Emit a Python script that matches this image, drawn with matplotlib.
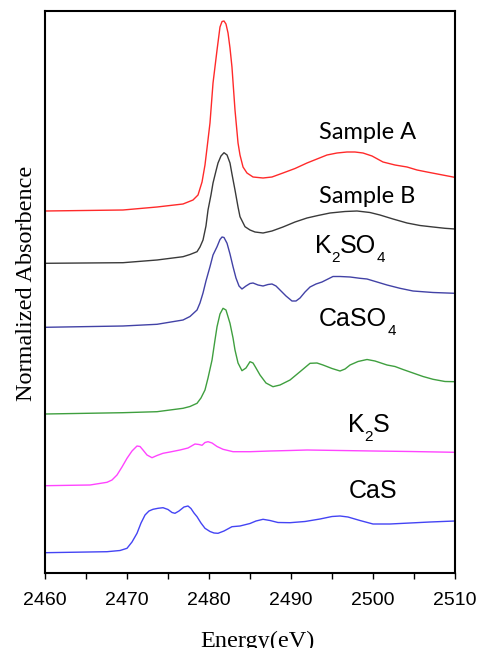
import matplotlib
matplotlib.use("Agg")
import matplotlib.pyplot as plt
import matplotlib.transforms as mtransforms
from matplotlib.ticker import MultipleLocator

# ---------------- data ----------------
sampleA_E = [2460.0, 2469.51, 2473.66, 2476.83, 2478.05, 2478.66, 2479.15, 2479.51, 2479.76, 2480.12,
             2480.49, 2480.98, 2481.34, 2481.59, 2481.83, 2482.07, 2482.32, 2482.56, 2482.80, 2483.17,
             2483.54, 2483.78, 2484.15, 2484.63, 2485.37, 2486.59, 2487.68, 2489.02, 2490.49, 2491.95,
             2493.17, 2494.39, 2495.61, 2496.83, 2497.80, 2498.78, 2499.88, 2501.22, 2502.68, 2504.15,
             2505.37, 2506.59, 2508.17, 2509.76, 2510.0]
sampleA_y = [3.62, 3.63, 3.66, 3.69, 3.73, 3.78, 3.91, 4.08, 4.25, 4.50,
             4.90, 5.23, 5.46, 5.515, 5.52, 5.49, 5.40, 5.25, 5.06, 4.63,
             4.30, 4.18, 4.06, 4.00, 3.96, 3.95, 3.96, 4.00, 4.045, 4.10,
             4.14, 4.18, 4.20, 4.21, 4.21, 4.20, 4.17, 4.11, 4.08, 4.06,
             4.03, 4.01, 3.985, 3.96, 3.955]

sampleB_E = [2460.0, 2469.51, 2473.66, 2476.83, 2477.68, 2478.54, 2478.90, 2479.27, 2479.63, 2479.88,
             2480.24, 2480.49, 2480.85, 2481.10, 2481.46, 2481.83, 2482.20, 2482.56, 2482.80, 2483.17,
             2483.54, 2483.78, 2484.39, 2485.0, 2485.61, 2486.59, 2487.68, 2489.02, 2490.49, 2491.95,
             2493.29, 2494.76, 2496.59, 2498.05, 2499.63, 2500.85, 2502.44, 2504.15, 2505.73, 2507.32,
             2508.78, 2510.0]
sampleB_y = [3.097, 3.103, 3.13, 3.163, 3.185, 3.213, 3.26, 3.33, 3.47, 3.63,
             3.78, 3.90, 4.02, 4.10, 4.17, 4.203, 4.18, 4.10, 3.99, 3.83,
             3.66, 3.563, 3.463, 3.43, 3.41, 3.40, 3.42, 3.46, 3.51, 3.55,
             3.575, 3.60, 3.615, 3.62, 3.605, 3.58, 3.54, 3.50, 3.475, 3.46,
             3.447, 3.44]

k2so4_E = [2460.0, 2469.51, 2473.66, 2476.83, 2477.68, 2478.54, 2478.90, 2479.27, 2479.63, 2480.12,
           2480.49, 2480.98, 2481.34, 2481.59, 2481.83, 2482.20, 2482.56, 2482.93, 2483.29, 2483.66,
           2484.02, 2484.51, 2485.0, 2485.37, 2485.98, 2486.59, 2487.20, 2487.68, 2488.17, 2488.66,
           2489.39, 2490.12, 2490.61, 2491.10, 2491.71, 2492.32, 2493.05, 2493.78, 2494.51, 2495.12,
           2495.98, 2497.20, 2498.41, 2499.27, 2500.49, 2501.71, 2503.29, 2504.88, 2507.32, 2510.0]
k2so4_y = [2.457, 2.47, 2.487, 2.53, 2.565, 2.63, 2.70, 2.80, 2.92, 3.063,
           3.18, 3.263, 3.335, 3.36, 3.355, 3.297, 3.19, 3.063, 2.95, 2.87,
           2.84, 2.87, 2.895, 2.90, 2.88, 2.87, 2.885, 2.89, 2.87, 2.83,
           2.77, 2.72, 2.72, 2.75, 2.81, 2.86, 2.89, 2.91, 2.94, 2.965,
           2.965, 2.96, 2.947, 2.94, 2.91, 2.88, 2.847, 2.82, 2.805, 2.797]

caso4_E = [2460.0, 2469.51, 2473.66, 2476.83, 2477.68, 2478.54, 2479.02, 2479.51, 2479.88, 2480.37,
           2480.73, 2480.98, 2481.34, 2481.71, 2482.07, 2482.56, 2482.93, 2483.17, 2483.54, 2484.02,
           2484.51, 2485.0, 2485.37, 2485.73, 2486.22, 2486.95, 2487.80, 2488.66, 2489.88, 2491.10,
           2492.32, 2493.17, 2493.90, 2495.0, 2495.98, 2496.59, 2497.20, 2498.17, 2499.27, 2500.24,
           2501.71, 2502.68, 2503.66, 2504.88, 2506.10, 2507.32, 2508.78, 2510.0]
caso4_y = [1.59, 1.603, 1.613, 1.647, 1.665, 1.697, 1.75, 1.83, 1.95, 2.13,
           2.33, 2.463, 2.59, 2.647, 2.63, 2.497, 2.35, 2.23, 2.10, 2.023,
           2.05, 2.113, 2.10, 2.05, 1.98, 1.90, 1.863, 1.88, 1.93, 2.013,
           2.097, 2.10, 2.08, 2.045, 2.02, 2.04, 2.08, 2.115, 2.135, 2.12,
           2.08, 2.065, 2.035, 2.00, 1.965, 1.937, 1.915, 1.913]

k2s_E = [2460.0, 2465.49, 2467.56, 2468.17, 2468.78, 2469.39, 2470.0, 2470.61, 2471.22, 2471.59,
         2471.95, 2472.44, 2473.05, 2473.66, 2474.39, 2475.24, 2476.46, 2477.44, 2478.29, 2478.78,
         2479.15, 2479.51, 2479.88, 2480.37, 2480.98, 2481.71, 2482.93, 2485.0, 2487.44, 2489.88,
         2491.95, 2495.98, 2500.0, 2504.51, 2510.0]
k2s_y = [0.873, 0.88, 0.907, 0.93, 0.98, 1.06, 1.147, 1.22, 1.27, 1.265,
         1.23, 1.18, 1.153, 1.175, 1.197, 1.21, 1.23, 1.25, 1.29, 1.285,
         1.277, 1.305, 1.313, 1.30, 1.265, 1.237, 1.213, 1.213, 1.22, 1.225,
         1.23, 1.225, 1.22, 1.215, 1.207]

cas_E = [2460.0, 2467.56, 2469.15, 2470.0, 2470.61, 2471.22, 2471.71, 2472.20, 2472.68, 2473.17,
         2473.78, 2474.39, 2475.0, 2475.49, 2475.85, 2476.34, 2476.95, 2477.44, 2477.80, 2478.17,
         2478.54, 2479.02, 2479.51, 2480.12, 2480.61, 2481.10, 2481.83, 2482.80, 2483.78, 2485.0,
         2485.73, 2486.59, 2487.44, 2488.41, 2489.88, 2491.71, 2493.54, 2495.0, 2495.98, 2496.95,
         2498.41, 2500.0, 2502.07, 2504.51, 2506.95, 2510.0]
cas_y = [0.203, 0.213, 0.225, 0.247, 0.31, 0.397, 0.50, 0.58, 0.62, 0.637,
         0.647, 0.653, 0.635, 0.605, 0.597, 0.62, 0.66, 0.67, 0.645, 0.60,
         0.563, 0.50, 0.447, 0.415, 0.40, 0.397, 0.42, 0.463, 0.47, 0.495,
         0.52, 0.537, 0.525, 0.505, 0.503, 0.515, 0.54, 0.565, 0.57, 0.56,
         0.525, 0.49, 0.49, 0.50, 0.51, 0.52]

x_ticks = [2460, 2470, 2480, 2490, 2500, 2510]

# series labels: pieces of (text, is_subscript)
label_sampleA = [('Sample A', False)]
label_sampleB = [('Sample B', False)]
label_k2so4 = [('K', False), ('2', True), ('SO', False), ('4', True)]
label_caso4 = [('CaSO', False), ('4', True)]
label_k2s = [('K', False), ('2', True), ('S', False)]
label_cas = [('CaS', False)]

# ---------------- figure ----------------
fig = plt.figure(figsize=(4.88, 6.48), dpi=100)
ax = fig.add_axes([45/488, 75/648, 410/488, 562/648])

series = [
    (sampleA_E, sampleA_y, '#ff2a2a'),
    (sampleB_E, sampleB_y, '#3a3a3a'),
    (k2so4_E, k2so4_y, '#4242a6'),
    (caso4_E, caso4_y, '#3f9f3f'),
    (k2s_E, k2s_y, '#ff44ff'),
    (cas_E, cas_y, '#4444f4'),
]
for E, y, c in series:
    ax.plot(E, y, color=c, lw=1.0)

ax.set_xlim(2460, 2510)
ax.set_ylim(0, 5.62)
ax.set_xticks(x_ticks)
ax.xaxis.set_minor_locator(MultipleLocator(5))
ax.set_yticks([])
ax.tick_params(axis='x', which='both', direction='out', length=4, width=1.0,
               labelsize=14, pad=10, top=False)
for lab in ax.get_xticklabels():
    lab.set_fontfamily('Liberation Sans')
for sp in ax.spines.values():
    sp.set_linewidth(1.5)

ax.set_ylabel('Normalized Absorbence', fontfamily='Liberation Serif', fontsize=17.5)
ax.yaxis.set_label_coords(-0.044, 0.516)
ax.yaxis.label.set_verticalalignment('center')
ax.set_xlabel('Energy(eV)', fontfamily='Liberation Serif', fontsize=17.5)
ax.xaxis.set_label_coords(0.517, -0.1317)
ax.xaxis.label.set_verticalalignment('baseline')

renderer = fig.canvas.get_renderer()


def place_label(pieces, x, y, family, fs, sub_fs, sub_drop_px):
    """Draw a label made of normal and subscript pieces, centred on x, baseline at y."""
    texts = []
    widths = []
    for s, is_sub in pieces:
        t = ax.text(x, y, s, ha='left', va='baseline', fontfamily=family,
                    fontsize=sub_fs if is_sub else fs)
        texts.append((t, is_sub))
        widths.append(t.get_window_extent(renderer).width)
    total = sum(widths)
    cursor = -total / 2.0
    for (t, is_sub), w in zip(texts, widths):
        dy = -sub_drop_px if is_sub else 0
        t.set_transform(ax.transData + mtransforms.ScaledTranslation(
            cursor / fig.dpi, dy / fig.dpi, fig.dpi_scale_trans))
        cursor += w


place_label(label_sampleA, 2499.3, 4.34, 'Lato', 17, 12, 9)
place_label(label_sampleB, 2499.3, 3.70, 'Lato', 17, 12, 9)
place_label(label_k2so4, 2497.2, 3.20, 'Liberation Sans', 18, 11, 9)
place_label(label_caso4, 2498.1, 2.47, 'Liberation Sans', 18, 11, 9)
place_label(label_k2s, 2499.45, 1.41, 'Liberation Sans', 18, 11, 9)
place_label(label_cas, 2500.0, 0.75, 'Liberation Sans', 18, 11, 9)

fig.savefig('out.png', dpi=100)
